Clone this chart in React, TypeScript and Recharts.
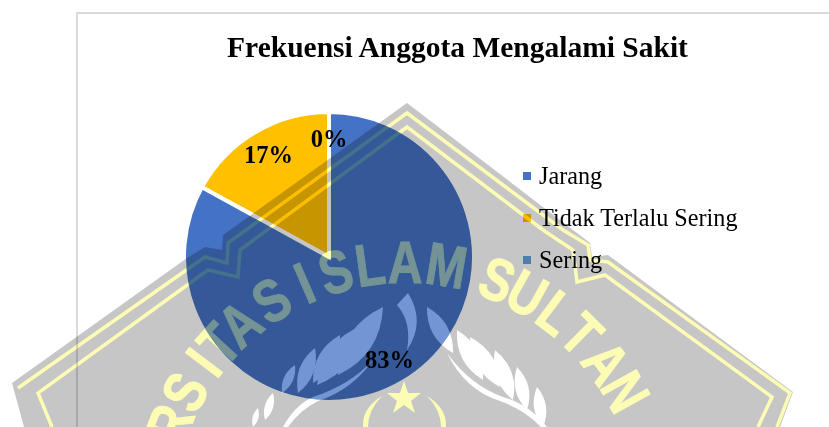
import { PieChart, Pie, Cell, Legend } from 'recharts';

const categories = ['Jarang', 'Tidak Terlalu Sering', 'Sering'];
const values = [0, 17, 83];
const percentLabels = ['0%', '17%', '83%'];
const colors = ['#4472C4', '#FFC000', '#4472C4'];
const legendColors = ['#4472C4', '#FFC000', '#5FA3E3'];

const chartData = categories.map((name, i) => ({ name, value: values[i] }));

// background watermark, arc lettering: [letter, degrees from the arc's top]
const arcLetters: [string, number][] = [
  ['R', -69], ['S', -61], ['I', -53], ['T', -47.5], ['A', -41], ['S', -32],
  ['I', -23.5], ['S', -16], ['L', -8], ['A', 0], ['M', 9.5],
  ['S', 21.5], ['U', 29], ['L', 37], ['T', 44.5], ['A', 53], ['N', 61],
];

// tip x, tip y, base x, base y
const leaves = [
  [383, 307, 338, 375], [363, 325, 317, 385], [340, 335, 313, 383], [315, 348, 298, 393],
  [295, 365, 282, 393], [273, 393, 265, 420], [258, 408, 253, 427],
  [427, 307, 453, 353], [457, 330, 483, 380], [470, 337, 500, 387], [495, 350, 513, 400],
  [517, 367, 527, 410], [537, 387, 543, 427],
];

function leafPath([x1, y1, x2, y2]: number[]) {
  const mx = (x1 + x2) / 2;
  const my = (y1 + y2) / 2;
  const dx = (y2 - y1) * 0.3;
  const dy = (x1 - x2) * 0.3;
  return `M${x1},${y1} Q${mx + dx},${my + dy} ${x2},${y2} Q${mx - dx},${my - dy} ${x1},${y1} Z`;
}

function Emblem({ opacity }: { opacity: number }) {
  return (
    <g opacity={opacity}>
      {arcLetters.map(([ch, a], i) => (
        <text
          key={i}
          transform={`rotate(${a} 405 514) translate(405 283) scale(0.8 1)`}
          textAnchor="middle"
          fontFamily="Liberation Sans"
          fontWeight="bold"
          fontSize={60}
          fill="#FDFCB5"
          stroke="#FDFCB5"
          strokeWidth={1}
        >
          {ch}
        </text>
      ))}
      <g fill="#fff">
        {leaves.map((l, i) => (
          <path key={i} d={leafPath(l)} />
        ))}
        <path d="M408,293 Q426,322 407,350 Q412,322 397,305 Z" />
        <path d="M373,360 Q350,385 313,397 Q295,405 283,427 L288,427 Q300,410 318,401 Q352,390 373,360 Z" />
        <path d="M447,353 Q470,385 503,397 Q530,405 547,427 L541,427 Q525,410 500,401 Q465,390 447,353 Z" />
      </g>
    </g>
  );
}

function Watermark() {
  return (
    <svg
      width={829}
      height={427}
      style={{ position: 'absolute', left: 0, top: 0, mixBlendMode: 'multiply', filter: 'blur(0.7px)' }}
    >
      <polygon
        points="407,103 590,243 592,257 608,255 793,392 780,427 24,427 12,383 187,258 205,247 222,250 223,235"
        fill="#C6C6C6"
      />
      <g fill="none" stroke="#FDFCB5" strokeWidth={3.5}>
        <polyline points="18,388 205,257 227,263 228,243 407,113 563,230 588,245 590,260 608,262 790,393 777,427" />
        <polyline points="52,427 38,393 190,283 208,270 238,277 240,250 407,127 543,230 573,250 577,282 605,275 772,397 758,427" />
      </g>
      <Emblem opacity={1} />
      <polygon points="404,381 408,393 421,393 411,401 415,413 404,405 393,413 397,401 387,393 400,393" fill="#FDFCB5" />
      <g fill="#FDFCB5">
        <path d="M382,396 Q362,408 363,427 L368,427 Q368,410 382,396 Z" />
        <path d="M427,396 Q447,408 446,427 L441,427 Q441,410 427,396 Z" />
      </g>
    </svg>
  );
}

function renderPercent(props: any) {
  const { cx, cy, midAngle, index } = props;
  const r = 119;
  const x = cx + r * Math.cos((-midAngle * Math.PI) / 180);
  const y = cy + r * Math.sin((-midAngle * Math.PI) / 180);
  return (
    <text
      x={x}
      y={y}
      textAnchor="middle"
      dominantBaseline="central"
      fontFamily="Liberation Serif"
      fontWeight="bold"
      fontSize={24.5}
      fill="#000"
    >
      {percentLabels[index]}
    </text>
  );
}

function renderLegend() {
  return (
    <div style={{ fontFamily: 'Liberation Serif', fontSize: 24.2, color: '#000' }}>
      {categories.map((name, i) => (
        <div key={name} style={{ display: 'flex', alignItems: 'center', height: 42 }}>
          <span style={{ width: 8, height: 8, background: legendColors[i], marginRight: 8 }} />
          <span>{name}</span>
        </div>
      ))}
    </div>
  );
}

export default function App() {
  return (
    <div style={{ position: 'absolute', left: 0, top: 0, width: 829, height: 427, overflow: 'hidden', background: '#fff' }}>
      <div
        style={{
          position: 'absolute',
          left: 76,
          top: 12,
          width: 760,
          height: 430,
          border: '2px solid #D9D9D9',
          boxSizing: 'border-box',
        }}
      />
      <div style={{ position: 'absolute', left: 0, top: 0 }}>
        <PieChart width={829} height={427} margin={{ top: 0, right: 0, bottom: 0, left: 0 }}>
          <text
            x={457.5}
            y={57}
            textAnchor="middle"
            fontFamily="Liberation Serif"
            fontWeight="bold"
            fontSize={29.5}
            fill="#000"
          >
            Frekuensi Anggota Mengalami Sakit
          </text>
          <Pie
            data={chartData}
            dataKey="value"
            nameKey="name"
            cx={329}
            cy={257}
            outerRadius={145}
            startAngle={90}
            endAngle={450}
            stroke="#fff"
            strokeWidth={4}
            label={renderPercent}
            labelLine={false}
            isAnimationActive={false}
          >
            {chartData.map((d, i) => (
              <Cell key={d.name} fill={colors[i]} />
            ))}
          </Pie>
          <Legend
            layout="vertical"
            content={renderLegend}
            wrapperStyle={{ left: 523, top: 155, width: 260 }}
          />
        </PieChart>
      </div>
      <Watermark />
      <svg width={829} height={427} style={{ position: 'absolute', left: 0, top: 0, filter: 'blur(0.7px)', pointerEvents: 'none' }}>
        <clipPath id="pieClip">
          <circle cx={329} cy={257} r={143} />
        </clipPath>
        <g clipPath="url(#pieClip)">
          <Emblem opacity={0.25} />
        </g>
      </svg>
    </div>
  );
}
